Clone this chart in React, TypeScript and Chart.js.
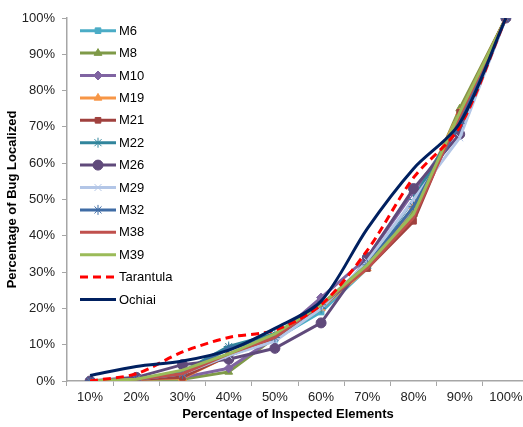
import React, { useEffect, useRef } from "react";
import { Chart, registerables } from "chart.js";
import { drawPoint } from "chart.js/helpers";

Chart.register(...registerables);

const categories = ["10%", "20%", "30%", "40%", "50%", "60%", "70%", "80%", "90%", "100%"];

const m6 = [0, 0.5, 2, 7, 11.5, 19, 31, 47, 73, 100];
const m8 = [0, 0.5, 0.5, 2.5, 12, 20, 32, 46, 75, 100];
const m10 = [0, 0.5, 1, 3.5, 12, 23, 34, 52, 70, 100];
const m19 = [0, 0.5, 0.8, 7, 12, 20, 31, 48, 74, 100];
const m21 = [0, 0.5, 1, 7, 12, 21, 31, 44, 74, 100];
const m22 = [0, 0.5, 2.5, 9.5, 13, 20, 32, 50, 72, 100];
const m26 = [0, 1, 4.5, 6, 9, 16, 34, 53, 68, 100];
const m29 = [0, 0.5, 2, 7, 11, 20, 33, 50, 67, 100];
const m32 = [0, 0.5, 2, 9, 12, 21, 32, 48, 71, 100];
const m38 = [0, 0.5, 2, 7.5, 12, 21, 31, 45, 73, 100];
const m39 = [0, 0.5, 3, 7.5, 13, 21, 32, 46, 74, 100];
const tarantula = [0, 2, 8, 12, 14, 21, 36, 56, 70, 100];
const ochiai = [1.5, 4, 5.5, 8.5, 14.5, 22, 42, 58.5, 71, 100];

const yTicks = [0, 10, 20, 30, 40, 50, 60, 70, 80, 90, 100];

const xTitle = "Percentage of Inspected Elements";
const yTitle = "Percentage of Bug Localized";

const FONT = "'Liberation Sans', Arial, sans-serif";

type S = {
  label: string;
  data: number[];
  color: string;
  marker: string | false;
  radius?: number;
  dash?: number[];
  tension?: number;
};

const series: S[] = [
  { label: "M6", data: m6, color: "#4BACC6", marker: "rect", radius: 4 },
  { label: "M8", data: m8, color: "#7F9A48", marker: "triangle", radius: 4.5 },
  { label: "M10", data: m10, color: "#8064A2", marker: "rectRot", radius: 4.5 },
  { label: "M19", data: m19, color: "#F79646", marker: "triangle", radius: 4.5 },
  { label: "M21", data: m21, color: "#A0413E", marker: "rect", radius: 4 },
  { label: "M22", data: m22, color: "#31859C", marker: "star", radius: 5 },
  { label: "M26", data: m26, color: "#604A7B", marker: "circle", radius: 5 },
  { label: "M29", data: m29, color: "#B3C6E7", marker: "crossRot", radius: 5 },
  { label: "M32", data: m32, color: "#3F6CA5", marker: "star", radius: 5 },
  { label: "M38", data: m38, color: "#C0504D", marker: false },
  { label: "M39", data: m39, color: "#9BBB59", marker: false },
  { label: "Tarantula", data: tarantula, color: "#FF0000", marker: false, dash: [8, 5], tension: 0.3 },
  { label: "Ochiai", data: ochiai, color: "#002060", marker: false, tension: 0.3 },
];

const insideLegend = {
  id: "insideLegend",
  afterDraw(chart: any) {
    const { ctx, chartArea } = chart;
    const x0 = chartArea.left + 13;
    let y = chartArea.top + 12.7;
    const step = 22.4;
    series.forEach((s) => {
      ctx.save();
      ctx.strokeStyle = s.color;
      ctx.lineWidth = 3;
      ctx.lineCap = "butt";
      ctx.setLineDash(s.dash || []);
      ctx.beginPath();
      ctx.moveTo(x0, y);
      ctx.lineTo(x0 + 36, y);
      ctx.stroke();
      ctx.setLineDash([]);
      if (s.marker) {
        ctx.fillStyle = s.color;
        ctx.strokeStyle = s.color;
        ctx.lineWidth = 1;
        drawPoint(ctx, { pointStyle: s.marker as any, radius: s.radius || 4, rotation: 0, borderWidth: 1 }, x0 + 18, y);
      }
      ctx.fillStyle = "#000000";
      ctx.font = "13px " + FONT;
      ctx.textAlign = "left";
      ctx.textBaseline = "middle";
      ctx.fillText(s.label, x0 + 39, y + 0.5);
      ctx.restore();
      y += step;
    });
    // x-axis title, centred as in the reference (slightly left of the plot centre)
    ctx.save();
    ctx.fillStyle = "#000000";
    ctx.font = "bold 13px " + FONT;
    ctx.textAlign = "center";
    ctx.textBaseline = "middle";
    ctx.fillText(xTitle, chartArea.left + 221, chartArea.bottom + 33);
    ctx.restore();
  },
};

export default function App() {
  const ref = useRef<HTMLCanvasElement>(null);

  useEffect(() => {
    const canvas = ref.current;
    if (!canvas) return;
    const n = series.length;
    const chart = new Chart(canvas, {
      type: "line",
      data: {
        labels: categories,
        datasets: series.map((s, i) => ({
          label: s.label,
          data: s.data,
          borderColor: s.color,
          backgroundColor: s.color,
          borderWidth: 3,
          borderDash: s.dash || [],
          pointStyle: (s.marker || "circle") as any,
          pointRadius: s.marker ? s.radius : 0,
          pointHoverRadius: s.marker ? s.radius : 0,
          pointBorderWidth: 1,
          pointBorderColor: s.color,
          pointBackgroundColor: s.color,
          tension: s.tension || 0,
          fill: false,
          order: n - i,
        })),
      },
      plugins: [insideLegend],
      options: {
        animation: false,
        responsive: false,
        maintainAspectRatio: false,
        layout: { padding: { left: 0, top: 18, right: 0, bottom: 0 } },
        plugins: {
          legend: { display: false },
          tooltip: { enabled: false },
        },
        scales: {
          x: {
            type: "category",
            offset: true,
            afterFit: (scale: any) => {
              scale.height = 46;
              scale.paddingLeft = 0;
              scale.paddingRight = 0;
            },
            grid: {
              offset: true,
              drawOnChartArea: false,
              drawTicks: true,
              tickLength: 5,
              color: "#A6A6A6",
            },
            border: { color: "#A6A6A6", width: 1.5 },
            ticks: {
              color: "#222222",
              font: { family: FONT, size: 13 },
              padding: 4,
              maxRotation: 0,
              autoSkip: false,
            },
            title: { display: false, text: xTitle },
          },
          y: {
            min: 0,
            max: 100,
            afterFit: (scale: any) => {
              scale.width = 67;
            },
            afterBuildTicks: (axis: any) => {
              axis.ticks = yTicks.map((v) => ({ value: v }));
            },
            grid: {
              drawOnChartArea: false,
              drawTicks: true,
              tickLength: 5,
              color: "#A6A6A6",
            },
            border: { color: "#A6A6A6", width: 1.5 },
            ticks: {
              color: "#222222",
              font: { family: FONT, size: 13 },
              padding: 7,
              callback: (v: any) => v + "%",
            },
            title: {
              display: true,
              text: yTitle,
              color: "#000000",
              font: { family: FONT, size: 13, weight: "bold" },
              padding: { top: 5, bottom: 4 },
            },
          },
        },
      },
    });
    return () => chart.destroy();
  }, []);

  return (
    <div style={{ position: "absolute", left: 0, top: 0, width: 523, height: 427, overflow: "hidden", background: "#ffffff" }}>
      <canvas ref={ref} width={535} height={427} style={{ width: 535, height: 427, display: "block" }} />
    </div>
  );
}
